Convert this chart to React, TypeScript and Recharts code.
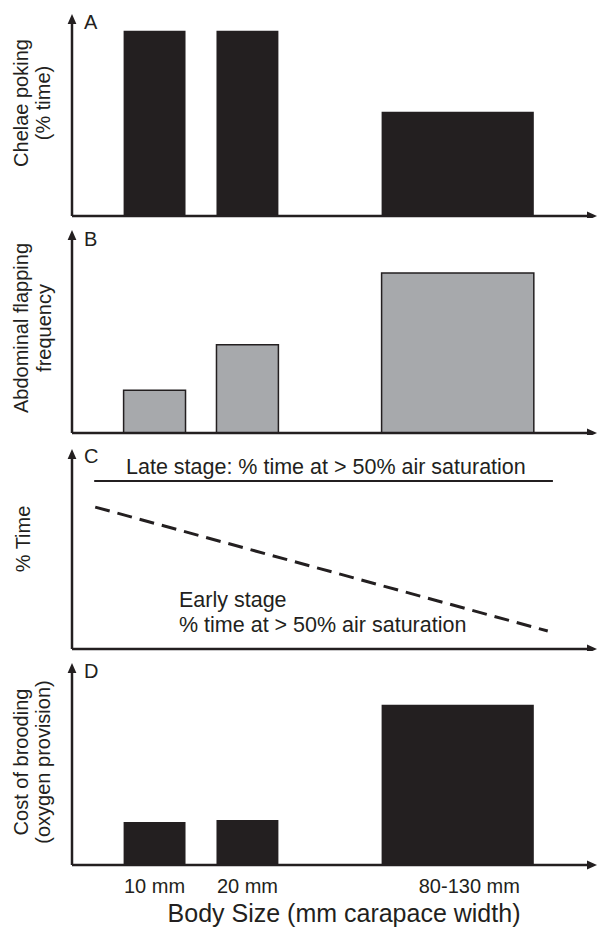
import React from 'react';
import { ComposedChart, XAxis, YAxis, ReferenceArea, Line } from 'recharts';

// ---- data ----
const sizeLabels = ['10 mm', '20 mm', '80-130 mm'];
const binStart = [10, 28, 60];
const binEnd = [22, 40, 89.5];
const tickPositions = [16, 34, 77];
const chelaePoking = [96, 96, 54];
const abdominalFlapping = [22, 45.5, 82.5];
const broodingCost = [22.3, 23.3, 83];
const lateStage = [
  { x: 4.3, y: 88 },
  { x: 93.2, y: 88 },
];
const earlyStage = [
  { x: 4.5, y: 74.3 },
  { x: 92.2, y: 9.4 },
];

const FONT = '"Liberation Sans", Arial, Helvetica, sans-serif';
const INK = '#231f20';
const GREY = '#a7a9ac';
const W = 598;
const BASE = 216; // local baseline of each panel

const Arrow = ({ id }: { id: string }) => (
  <marker
    id={id}
    viewBox="0 0 10 10"
    refX="1"
    refY="5"
    markerWidth="10"
    markerHeight="10"
    markerUnits="userSpaceOnUse"
    orient="auto-start-reverse"
  >
    <path d="M0,0.6 L10,5 L0,9.4 z" fill={INK} />
  </marker>
);

type PanelProps = {
  id: string;
  top: number;
  plotTop: number;
  xAxisHeight: number;
  letter: string;
  letterY: number;
  titleLines: string[];
  titleCenter: number;
  titleX: number[];
  values?: number[];
  fill?: string;
  outline?: boolean;
  showTicks?: boolean;
  children?: React.ReactNode;
};

const Panel = ({
  id,
  top,
  plotTop,
  xAxisHeight,
  letter,
  letterY,
  titleLines,
  titleCenter,
  titleX,
  values,
  fill,
  outline,
  showTicks,
  children,
}: PanelProps) => {
  const height = BASE + xAxisHeight;
  const rows = values
    ? values.map((v, i) => ({ x: (binStart[i] + binEnd[i]) / 2, v }))
    : [];
  return (
    <div style={{ position: 'absolute', left: 0, top, width: W, height }}>
      <ComposedChart
        width={W}
        height={height}
        data={rows}
        margin={{ top: plotTop, right: 10, bottom: 0, left: 0 }}
      >
        <defs>
          <Arrow id={`arrow-${id}`} />
        </defs>
        <XAxis
          type="number"
          dataKey="x"
          domain={[0, 100]}
          allowDataOverflow
          height={xAxisHeight}
          ticks={showTicks ? tickPositions : []}
          tickFormatter={(v: number) => sizeLabels[tickPositions.indexOf(v)] ?? ''}
          tickLine={false}
          tick={
            showTicks
              ? (p: any) => (
                  <text
                    x={p.x}
                    y={BASE + 28}
                    textAnchor="middle"
                    fontFamily={FONT}
                    fontSize={20}
                    fill={INK}
                  >
                    {sizeLabels[tickPositions.indexOf(p.payload.value)]}
                  </text>
                )
              : false
          }
          axisLine={{ stroke: INK, strokeWidth: 2.5, markerEnd: `url(#arrow-${id})` }}
        />
        <YAxis
          type="number"
          domain={[0, 100]}
          allowDataOverflow
          width={72}
          tick={false}
          tickLine={false}
          axisLine={{ stroke: INK, strokeWidth: 2.5, markerStart: `url(#arrow-${id})` }}
        />
        {values &&
          values.map((v, i) => (
            <ReferenceArea
              key={i}
              x1={binStart[i]}
              x2={binEnd[i]}
              y1={0}
              y2={v}
              fill={fill}
              fillOpacity={1}
              stroke={outline ? INK : 'none'}
              strokeWidth={outline ? 1.5 : 0}
            />
          ))}
        {children}
        <text x={84} y={letterY} fontFamily={FONT} fontSize={20} fill={INK}>
          {letter}
        </text>
        {titleLines.map((t, i) => (
          <text
            key={i}
            x={titleX[i]}
            y={titleCenter}
            transform={`rotate(-90 ${titleX[i]} ${titleCenter})`}
            textAnchor="middle"
            fontFamily={FONT}
            fontSize={20}
            fill={INK}
          >
            {t}
          </text>
        ))}
        {showTicks && (
          <text
            x={344}
            y={BASE + 57}
            textAnchor="middle"
            fontFamily={FONT}
            fontSize={25}
            fill={INK}
          >
            Body Size (mm carapace width)
          </text>
        )}
      </ComposedChart>
    </div>
  );
};

export default function App() {
  return (
    <div
      style={{
        position: 'absolute',
        left: 0,
        top: 0,
        width: W,
        height: 931,
        background: '#ffffff',
        overflow: 'hidden',
      }}
    >
      <Panel
        id="A"
        top={0}
        plotTop={23}
        xAxisHeight={2}
        letter="A"
        letterY={29}
        titleLines={['Chelae poking', '(% time)']}
        titleCenter={103}
        titleX={[28, 50]}
        values={chelaePoking}
        fill={INK}
      />
      <Panel
        id="B"
        top={217}
        plotTop={22}
        xAxisHeight={2}
        letter="B"
        letterY={29}
        titleLines={['Abdominal flapping', 'frequency']}
        titleCenter={111}
        titleX={[28, 51]}
        values={abdominalFlapping}
        fill={GREY}
        outline
      />
      <Panel
        id="C"
        top={433}
        plotTop={25}
        xAxisHeight={2}
        letter="C"
        letterY={30}
        titleLines={['% Time']}
        titleCenter={106}
        titleX={[30]}
      >
        <Line
          data={lateStage}
          dataKey="y"
          type="linear"
          stroke={INK}
          strokeWidth={2}
          dot={false}
          activeDot={false}
          isAnimationActive={false}
        />
        <Line
          data={earlyStage}
          dataKey="y"
          type="linear"
          stroke={INK}
          strokeWidth={3}
          strokeDasharray="15 8"
          dot={false}
          activeDot={false}
          isAnimationActive={false}
        />
        <text x={126} y={41} fontFamily={FONT} fontSize={21.5} fill={INK}>
          Late stage: % time at &gt; 50% air saturation
        </text>
        <text x={179} y={174} fontFamily={FONT} fontSize={21.5} fill={INK}>
          Early stage
        </text>
        <text x={179} y={199} fontFamily={FONT} fontSize={21.5} fill={INK}>
          % time at &gt; 50% air saturation
        </text>
      </Panel>
      <Panel
        id="D"
        top={649}
        plotTop={23}
        xAxisHeight={66}
        letter="D"
        letterY={29}
        titleLines={['Cost of brooding', '(oxygen provision)']}
        titleCenter={113}
        titleX={[28, 50]}
        values={broodingCost}
        fill={INK}
        showTicks
      />
    </div>
  );
}
